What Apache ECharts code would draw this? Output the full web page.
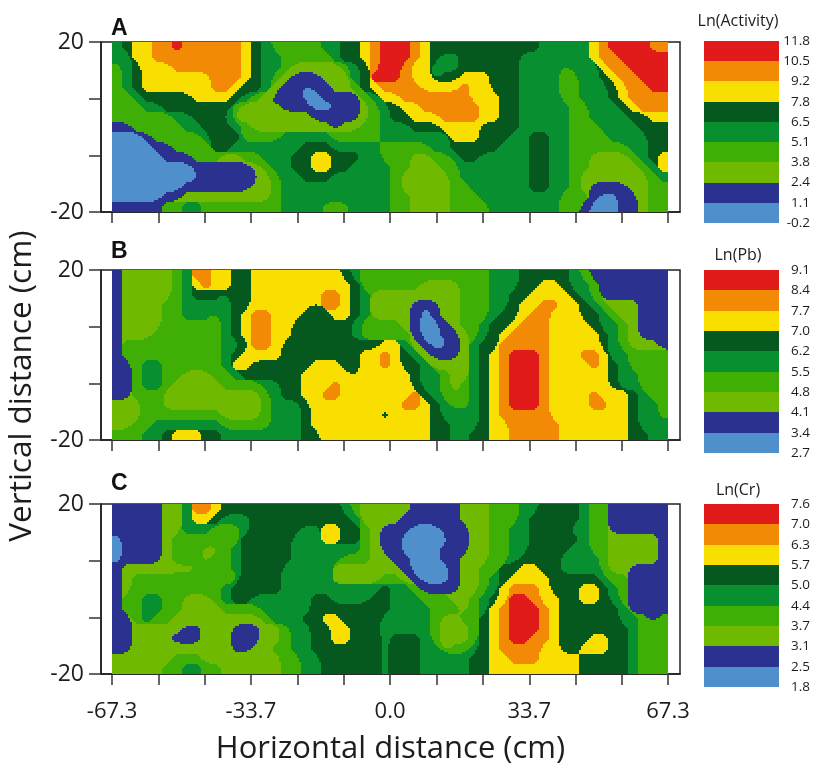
<!DOCTYPE html>
<html><head><meta charset="utf-8">
<style>html,body{margin:0;padding:0;background:#fff}#c{width:815px;height:763px}</style>
<script src="https://cdn.jsdelivr.net/npm/echarts@6/dist/echarts.min.js"></script>
</head><body><div id="c"></div>
<script>
// Band index per sampled cell (0 = lowest class ... 8 = highest class), 56 columns x 17 rows, top row first.
const gridA = [
"4566778777777654333334455678"+"8876555555555554444467888877",
"4466777777777654433333455678"+"8876544555555444444467788888",
"3456667777777654432222234578"+"8766444555555444434446778888",
"3456666666777654321112224588"+"8766455666555444433445677888",
"3456666666776554211011223567"+"7776666766555444433444567788",
"3345555566665432111001111346"+"6777777766655444433444567777",
"3334455555553221211100011234"+"5667777776655444443344456777",
"3333334455542222222211111234"+"5566677776655444443344445566",
"1133333445554322222222122334"+"4455566665555444443334444555",
"0001333334555333344444333334"+"4444446665554455443333444455",
"0000113333554444444555444443"+"3333445555544455443333334455",
"0000011133322334445566555443"+"3322334554444455443322223456",
"0000000011111123445566554444"+"3322233444444455443322222346",
"0000000001111112344555444444"+"3222223444444455443222222234",
"0000000111111122344444444444"+"3222223344444455443211112233",
"0000011222222222344444444444"+"3322223334444444433310011233",
"1111133443333333344443334444"+"3322223333434444433100011233"];
const gridB = [
"1222223477665566665666654333"+"3333333333444555554311111111",
"1222223467665566666666665333"+"3332222333444556654431111111",
"1222223455545566666667765422"+"2222222333445566665431111111",
"1221233444445566666657765422"+"2210122333445667766543222111",
"1221233444345677666555665422"+"2210122333455677666554322111",
"1222233333345677665555554333"+"3210012334556777666654432111",
"1222333333345677665555554333"+"3310011234567777666665432111",
"1333333333344577655555555556"+"6421001245577777666665432221",
"1333333333345666655555555667"+"6542111245678887666776443333",
"1134433333346655555566655667"+"6554222245678887666676543333",
"1134433222334555555666665666"+"6654432245678887666666544333",
"1134432222233334455666766666"+"6654432345678887666666544333",
"1133322112222223455667766666"+"6675432345678887666676665433",
"2223322222222223444566666665"+"6776543345678887666677665443",
"2223333333322223444566666665"+"6666544445677777666666665443",
"2233444444433333444566666665"+"6666554445667777766666665444",
"3334456665544444444556666666"+"6666554455667777766666665544"];
const gridC = [
"1111122477655555554555543222"+"2211111222333445555433111111",
"1111122466544455555555554222"+"2111111222333455555433111111",
"1111122444333455555446655321"+"1100011122334455554433111111",
"0111123333333555554446655321"+"1000001122334455555433222221",
"0111123332234555554444444321"+"1000011122334455554433222221",
"0111123332334555554444433322"+"1100011222334555544443222221",
"1222222223334555544444222222"+"2100001223355665544443221111",
"1233333333333555544444222223"+"3210001223456666555554331111",
"1233333333345555544444444445"+"4431111223467776555665431111",
"1334433222345544444455444455"+"4443332234568876655665431111",
"1334433222233334444455555555"+"4444333234678887655555541111",
"1134332222222223444556655554"+"4444322335678887655555544313",
"1122222112221112234455665554"+"4444322235678887655555554333",
"1122211112221112234455665554"+"5554322235678877655566554333",
"1122222222221122334455555554"+"5554423345677776655666554333",
"2222223332222222233445555554"+"5554444455667776666555554333",
"2222233443322222233445555554"+"5554444455666666666555554333"];

// Class limits, lowest first (one more than the number of bands).
const levelsA = ["-0.2","1.1","2.4","3.8","5.1","6.5","7.8","9.2","10.5","11.8"];
const levelsB = ["2.7","3.4","4.1","4.8","5.5","6.2","7.0","7.7","8.4","9.1"];
const levelsC = ["1.8","2.5","3.1","3.7","4.4","5.0","5.7","6.3","7.0","7.6"];
const bandColors = ["#4f8fcb","#2b318f","#6fb900","#3fae05","#089030","#05591f","#f8df00","#f28a05","#e01b1a"];

const titles = ["Ln(Activity)","Ln(Pb)","Ln(Cr)"];
const panelNames = ["A","B","C"];
const xTicks = [-67.3,-56.1,-44.9,-33.7,-22.4,-11.2,0,11.2,22.4,33.7,44.9,56.1,67.3];
const xLabels = [-67.3,-33.7,0,33.7,67.3];
const yTicks = [-20,-6.67,6.67,20];
const yLabels = [-20,20];
const xExtent = [-67.3,67.3], yExtent = [-20,20];

const FONT = '"Open Sans", sans-serif', INK = '#1d1d1d';
const SUB = 5; // contour boundaries are traced at 1/5 of a sampled cell
const SOFT = 3; // boundary rounding radius, in traced steps

function kernel(t){
  const t2=t*t,t3=t2*t;
  const cr=[-.5*t3+t2-.5*t, 1.5*t3-2.5*t2+1, -1.5*t3+2*t2+.5*t, .5*t3-.5*t2];
  const bs=[(1-3*t+3*t2-t3)/6,(4-6*t2+3*t3)/6,(1+3*t+3*t2-3*t3)/6,t3/6];
  return cr.map((c,i)=>.4*c+.6*bs[i]);
}
function boxPass(src,W,H,dx,dy,rad){
  const out=new Float32Array(W*H),n=dx?W:H,m=dx?H:W;
  for(let o=0;o<m;o++){
    let sum=0;
    const at=p=>{const q=Math.max(0,Math.min(n-1,p));return dx?src[o*W+q]:src[q*W+o];};
    for(let p=-rad;p<=rad;p++)sum+=at(p);
    for(let p=0;p<n;p++){
      out[dx?o*W+p:p*W+o]=sum/(2*rad+1);
      sum+=at(p+rad+1)-at(p-rad);
    }
  }
  return out;
}
function spans(grid){
  const R=grid.length,C=grid[0].length,nodes=grid.map(r=>Array.from(r,Number));
  const sub=[];for(let s=0;s<SUB;s++){const f=(s+.5)/SUB-.5;const b=f<0?-1:0;sub.push({b,w:kernel(f-b)});}
  const W=C*SUB,H=R*SUB,sharp=[],soft=[];
  for(let k=1;k<=8;k++){
    const bin=(j,i)=>nodes[Math.max(0,Math.min(R-1,j))][Math.max(0,Math.min(C-1,i))]>=k?1:0;
    const S=new Float32Array(W*H);
    for(let r=0;r<H;r++){
      const j=Math.floor(r/SUB),sy=sub[r%SUB];
      for(let s=0;s<W;s++){
        const i=Math.floor(s/SUB),sx=sub[s%SUB];let v=0;
        for(let a=0;a<4;a++)for(let b=0;b<4;b++)v+=sy.w[a]*sx.w[b]*bin(j+sy.b+a-1,i+sx.b+b-1);
        S[r*W+s]=v;
      }
    }
    let B=S;
    for(let p=0;p<2;p++){B=boxPass(B,W,H,true,false,SOFT);B=boxPass(B,W,H,false,true,SOFT);}
    sharp[k]=S;soft[k]=B;
  }
  const out=[];
  const xAt=s=>xExtent[0]+(xExtent[1]-xExtent[0])*s/W, yAt=r=>yExtent[1]-(yExtent[1]-yExtent[0])*r/H;
  for(let r=0;r<H;r++){
    let start=0,cur=-1;
    for(let s=0;s<=W;s++){
      let band=-2;
      if(s<W){
        band=0;
        for(let k=8;k>=1;k--){
          const id=r*W+s;
          if(soft[k][id]>=.5||sharp[k][id]>=.52){band=k;break;}
        }
      }
      if(band!==cur){
        if(cur>=0)out.push([xAt(start),yAt(r),xAt(s),yAt(r+1),cur]);
        start=s;cur=band;
      }
    }
  }
  return out;
}
function renderRect(params,api){
  const a=api.coord([api.value(0),api.value(1)]),b=api.coord([api.value(2),api.value(3)]),c=bandColors[api.value(4)];
  const x0=Math.round(a[0]),y0=Math.round(a[1]),x1=Math.round(b[0]),y1=Math.round(b[1]);
  return {type:'rect',shape:{x:x0,y:y0,width:x1-x0,height:y1-y0},style:{fill:c}};
}

const panels=[{g:gridA,top:42,lv:levelsA,bar:[41,182],ty:21},
              {g:gridB,top:270,lv:levelsB,bar:[270,183],ty:255},
              {g:gridC,top:504,lv:levelsC,bar:[504,183],ty:490}];
const grid=[],xAxis=[],yAxis=[],series=[],graphic=[];
panels.forEach((p,n)=>{
  grid.push({left:101,top:p.top,width:579,height:170,outerBoundsMode:'none',show:true,borderColor:'#222',borderWidth:1.5,backgroundColor:'transparent'});
  xAxis.push({type:'value',gridIndex:n,min:-70,max:70.2,position:'bottom',splitLine:{show:false},
    axisLine:{show:true,onZero:false,lineStyle:{color:INK,width:1.5}},
    axisTick:{show:true,length:11,customValues:xTicks,lineStyle:{color:'#333',width:1.5}},
    axisLabel:{show:n===2,customValues:xLabels,margin:27,fontFamily:FONT,fontSize:22,color:INK,formatter:v=>v.toFixed(1)},
    name:n===2?'Horizontal distance (cm)':'',nameLocation:'middle',nameGap:60,
    nameTextStyle:{fontFamily:FONT,fontSize:31,color:INK}});
  yAxis.push({type:'value',gridIndex:n,min:-20,max:20,position:'left',splitLine:{show:false},
    axisLine:{show:true,onZero:false,lineStyle:{color:INK,width:1.5}},
    axisTick:{show:true,length:12,customValues:yTicks,lineStyle:{color:'#333',width:1.5}},
    axisLabel:{show:true,customValues:yLabels,margin:17,fontFamily:FONT,fontSize:23,color:INK}});
  series.push({type:'custom',coordinateSystem:'cartesian2d',xAxisIndex:n,yAxisIndex:n,silent:true,animation:false,
    progressive:0,data:spans(p.g),encode:{x:[0,2],y:[1,3]},renderItem:renderRect,z:2});
  graphic.push({type:'text',left:111,top:[17,240,472][n],style:{text:panelNames[n],font:'bold 23px "Liberation Sans", Arial, sans-serif',fill:'#111'}});
});
panels.forEach((p,n)=>{
  const idx=3+n;
  grid.push({left:704,top:p.bar[0],width:75,height:p.bar[1],outerBoundsMode:'none'});
  xAxis.push({type:'value',gridIndex:idx,min:0,max:1,show:false});
  yAxis.push({type:'value',gridIndex:idx,min:0,max:9,interval:1,position:'right',splitLine:{show:false},
    axisLine:{show:false},axisTick:{show:false},
    axisLabel:{show:true,align:'right',margin:31,fontFamily:FONT,fontSize:13.5,color:INK,formatter:v=>p.lv[v]}});
  series.push({type:'custom',coordinateSystem:'cartesian2d',xAxisIndex:idx,yAxisIndex:idx,silent:true,animation:false,
    data:bandColors.map((c,i)=>[0,i+1,1,i,i]),encode:{x:[0,2],y:[1,3]},renderItem:renderRect});
  graphic.push({type:'text',x:738,y:p.ty,style:{text:titles[n],align:'center',verticalAlign:'middle',font:'16px '+FONT,fill:'#222'}});
});
graphic.push({type:'text',x:22,y:386,rotation:Math.PI/2,style:{text:'Vertical distance (cm)',align:'center',verticalAlign:'middle',font:'31.5px '+FONT,fill:INK}});

const chart=echarts.init(document.getElementById('c'),null,{renderer:'canvas'});
chart.setOption({animation:false,backgroundColor:'#fff',grid,xAxis,yAxis,series,graphic});
</script></body></html>
